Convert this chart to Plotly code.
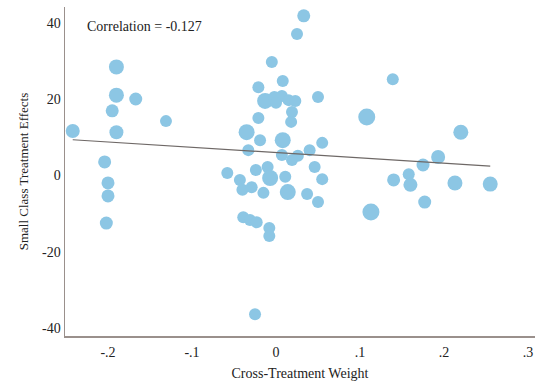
import plotly.graph_objects as go

# Cross-treatment weight (x) and small class treatment effect (y), point sizes (relative weight)
cross_weight = [
    -0.242, -0.190, -0.190, -0.195, -0.190, -0.167, -0.131, -0.204, -0.200, -0.200, -0.202,
    0.139, 0.108, 0.220, 0.193, 0.175, 0.158, 0.140, 0.160, 0.213, 0.255, 0.177, 0.113,
    0.033, 0.025, -0.005, -0.021, 0.008, -0.013, -0.002, 0.007, 0.015, 0.000, 0.023, 0.050,
    0.019, -0.021, 0.018, -0.035, -0.019, 0.008, -0.033, 0.007, 0.026, 0.019, 0.040, 0.055,
    -0.010, -0.024, -0.058, 0.046, -0.007, 0.011, 0.055, -0.043, -0.040, -0.029, -0.015,
    0.014, 0.037, 0.050, -0.039, -0.031, -0.023, -0.008, -0.008, -0.025,
]
treatment_effect = [
    11.6, 28.4, 21.0, 16.9, 11.3, 20.0, 14.2, 3.5, -2.0, -5.4, -12.5,
    25.2, 15.3, 11.3, 4.8, 2.7, 0.3, -1.2, -2.5, -2.0, -2.3, -7.0, -9.6,
    41.8, 37.0, 29.7, 23.1, 24.7, 19.5, 20.5, 20.8, 19.7, 19.0, 19.5, 20.5,
    16.6, 15.0, 14.0, 11.3, 9.2, 9.2, 6.6, 5.3, 5.1, 4.0, 6.6, 8.5,
    2.2, 1.4, 0.6, 2.2, -0.7, -0.4, -1.0, -1.2, -3.8, -3.1, -4.6,
    -4.4, -4.9, -7.0, -11.0, -11.7, -12.3, -13.8, -15.9, -36.4,
]
point_weight = [
    14, 15, 15, 13, 14, 13, 12, 13, 13, 13, 13,
    12, 17, 15, 14, 13, 12, 13, 14, 15, 15, 13, 17,
    13, 12, 12, 12, 12, 16, 12, 12, 12, 12, 12, 12,
    12, 12, 12, 16, 12, 16, 12, 12, 12, 12, 12, 12,
    12, 12, 12, 12, 16, 12, 12, 12, 12, 12, 12,
    16, 12, 12, 12, 12, 12, 12, 12, 12,
]

# Fitted regression line (intercept, slope)
fit_intercept = 5.96
fit_slope = -13.9

x_tick_vals = [-0.2, -0.1, 0, 0.1, 0.2, 0.3]
x_tick_text = ["-.2", "-.1", "0", ".1", ".2", ".3"]
y_tick_vals = [-40, -20, 0, 20, 40]
y_tick_text = ["-40", "-20", "0", "20", "40"]

correlation_text = "Correlation = -0.127"

fig = go.Figure()
fig.add_trace(go.Scatter(
    x=cross_weight, y=treatment_effect, mode="markers",
    marker=dict(size=point_weight, color="rgb(140,198,228)", line=dict(width=0), opacity=1),
    showlegend=False, hoverinfo="skip",
))
xmin, xmax = min(cross_weight), max(cross_weight)
fig.add_trace(go.Scatter(
    x=[xmin, xmax], y=[fit_intercept + fit_slope * xmin, fit_intercept + fit_slope * xmax],
    mode="lines", line=dict(color="rgb(110,104,102)", width=1.2),
    showlegend=False, hoverinfo="skip",
))

font_family = "Liberation Serif, Times New Roman, serif"
fig.update_layout(
    template="none",
    width=535, height=386,
    margin=dict(l=65, r=0, t=7, b=50, autoexpand=False),
    paper_bgcolor="white", plot_bgcolor="white",
    font=dict(family=font_family, size=14, color="#222"),
    xaxis=dict(
        range=[-0.2512, 0.3083], tickvals=x_tick_vals, ticktext=x_tick_text,
        showgrid=False, zeroline=False, showline=True, linecolor="#9a908c", linewidth=1.5,
        ticks="", ticklen=0, automargin=False, tickfont=dict(size=14), ticklabelstandoff=3,
        title=dict(text="Cross-Treatment Weight", font=dict(size=14, family=font_family), standoff=9),
    ),
    yaxis=dict(
        range=[-42.1, 44.1], tickvals=y_tick_vals, ticktext=y_tick_text,
        showgrid=False, zeroline=False, showline=True, linecolor="#9a908c", linewidth=1.5,
        ticks="", ticklen=0, automargin=False, tickfont=dict(size=14),
        title=dict(text="Small Class Treatment Effects", font=dict(size=13, family=font_family), standoff=10),
    ),
    annotations=[dict(
        x=0.042, y=0.97, xref="paper", yref="paper", xanchor="left", yanchor="top",
        text=correlation_text, showarrow=False, font=dict(size=14, family=font_family, color="#222"),
    )],
)

fig.write_html(
    "out.html",
    config={"displayModeBar": False, "staticPlot": True},
    post_script="document.body.style.margin='0';document.body.style.overflow='hidden';",
)
